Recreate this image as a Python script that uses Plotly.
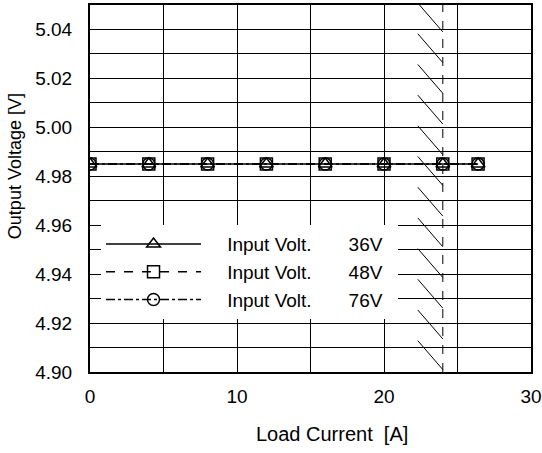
import plotly.graph_objects as go
import numpy as np

# measured load points (A) and output voltage (V) for each input voltage
load_current = [0, 4, 8, 12, 16, 20, 24, 26.4]
vout_36v = [4.985, 4.985, 4.985, 4.985, 4.985, 4.985, 4.985, 4.985]
vout_48v = [4.985, 4.985, 4.985, 4.985, 4.985, 4.985, 4.985, 4.985]
vout_76v = [4.985, 4.985, 4.985, 4.985, 4.985, 4.985, 4.985, 4.985]

series_names = ["Input Volt.", "Input Volt.", "Input Volt."]
series_volts = ["36V", "48V", "76V"]

# rated current limit, with hatching on the usable side
limit_current = 24
y_range = [4.90, 5.05]

FONT = "Arial, Liberation Sans, sans-serif"

fig = go.Figure()

# hatch marks along the current-limit line
hatch_y = np.linspace(4.901, 5.039, 12)
hx, hy = [], []
for yv in hatch_y:
    hx += [limit_current - 1.7, limit_current, None]
    hy += [yv + 0.0118, yv, None]
fig.add_trace(go.Scatter(x=hx, y=hy, mode="lines",
                         line=dict(color="black", width=1),
                         showlegend=False, hoverinfo="skip"))

# dashed limit line
fig.add_trace(go.Scatter(x=[limit_current, limit_current], y=y_range, mode="lines",
                         line=dict(color="black", width=1, dash="dash"),
                         showlegend=False, hoverinfo="skip"))

styles = [("solid", "triangle-up-open"), ("dash", "square-open"), ("dashdot", "circle-open")]
for vals, nm, volt, (dash, sym) in zip([vout_36v, vout_48v, vout_76v], series_names,
                                       series_volts, styles):
    fig.add_trace(go.Scatter(
        x=load_current, y=vals, mode="lines+markers",
        name="\u00a0" * 4 + nm + "\u00a0" * 7 + volt + "\u00a0" * 2,
        line=dict(color="black", width=1.5, dash=dash),
        marker=dict(symbol=sym, size=12, color="black", line=dict(width=1.5, color="black")),
    ))

fig.update_layout(
    width=542, height=453,
    margin=dict(l=90, r=11, t=5, b=81, autoexpand=False),
    plot_bgcolor="white", paper_bgcolor="white",
    font=dict(family=FONT, size=19, color="black"),
    showlegend=True,
    legend=dict(x=0.025, y=0.40, xanchor="left", yanchor="top",
                bgcolor="white", borderwidth=0, itemwidth=95,
                font=dict(family=FONT, size=19, color="black"),
                tracegroupgap=0),
    xaxis=dict(range=[0, 30], dtick=10, tick0=0, showgrid=True, automargin=False,
               gridcolor="black", gridwidth=1.2,
               minor=dict(dtick=5, showgrid=True, gridcolor="black", gridwidth=1.2),
               showline=True, linecolor="black", linewidth=2, mirror=True,
               zeroline=False, ticks="", ticklabelstandoff=6),
    yaxis=dict(range=y_range, dtick=0.02, tick0=4.90, tickformat=".2f", automargin=False,
               showgrid=True, gridcolor="black", gridwidth=1.2,
               minor=dict(dtick=0.01, showgrid=True, gridcolor="black", gridwidth=1.2),
               showline=True, linecolor="black", linewidth=2, mirror=True,
               zeroline=False, ticks="", ticklabelstandoff=12),
    annotations=[
        dict(text="Load Current  [A]", xref="paper", yref="paper", x=0.549, y=-0.17,
             xanchor="center", yanchor="middle", showarrow=False, font=dict(size=20)),
        dict(text="Output Voltage [V]", xref="paper", yref="paper", x=-0.17, y=0.561,
             xanchor="center", yanchor="middle", textangle=-90, showarrow=False,
             font=dict(size=18)),
    ],
)

fig.write_html("out.html", config={"displayModeBar": False},
               post_script="document.body.style.margin='0px';")
